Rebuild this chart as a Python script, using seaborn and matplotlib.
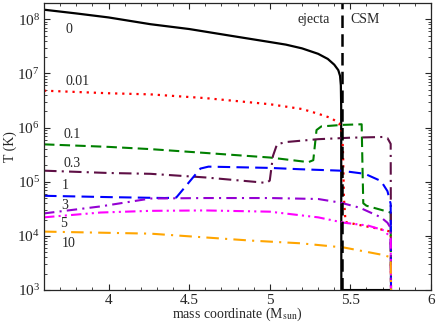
import numpy as np
import pandas as pd
import matplotlib
matplotlib.use("Agg")
import matplotlib.pyplot as plt
import seaborn as sns
from matplotlib.ticker import MultipleLocator, FixedLocator, FixedFormatter, LogLocator, NullFormatter

# temperature profiles for different times
m_0 = [3.6, 3.8, 4.0, 4.26, 4.5, 4.75, 5.0, 5.1, 5.2, 5.3, 5.36, 5.4, 5.425, 5.436, 5.441, 5.443, 5.444, 5.75]
T_0 = [1.5e8, 1.28e8, 1.08e8, 8.1e7, 6.6e7, 5.0e7, 3.8e7, 3.4e7, 2.9e7, 2.3e7, 1.85e7, 1.45e7, 1.15e7, 9e6, 6e6, 2.5e6, 1e3, 1e3]

m_001 = [3.6, 4.0, 4.26, 4.6, 5.0, 5.2, 5.3, 5.38, 5.43, 5.45, 5.455, 5.46, 5.47, 5.55, 5.65, 5.75, 5.752]
T_001 = [4.8e6, 4.3e6, 4.1e6, 3.5e6, 2.7e6, 2.2e6, 1.8e6, 1.5e6, 1.2e6, 8e5, 3e5, 5e4, 1.8e4, 1.6e4, 1.4e4, 1.2e4, 1e3]

m_01 = [3.6, 4.0, 4.26, 4.6, 5.0, 5.24, 5.27, 5.29, 5.32, 5.45, 5.57, 5.575, 5.58, 5.6, 5.75, 5.752]
T_01 = [4.9e5, 4.4e5, 4.0e5, 3.4e5, 2.8e5, 2.3e5, 2.5e5, 9e5, 1.05e6, 1.12e6, 1.15e6, 2e5, 4e4, 3.6e4, 2.7e4, 1e3]

m_03 = [3.6, 4.0, 4.26, 4.6, 4.9, 4.98, 5.0, 5.02, 5.045, 5.1, 5.3, 5.5, 5.7, 5.73, 5.75, 5.752]
T_03 = [1.6e5, 1.45e5, 1.4e5, 1.2e5, 1.0e5, 9.5e4, 1.05e5, 3e5, 4.9e5, 5.4e5, 6.1e5, 6.5e5, 6.7e5, 6.4e5, 5e5, 1e3]

m_1 = [3.6, 4.0, 4.35, 4.42, 4.57, 4.62, 5.0, 5.19, 5.44, 5.59, 5.69, 5.73, 5.75, 5.752]
T_1 = [5.5e4, 5.2e4, 5.0e4, 5.1e4, 1.75e5, 1.9e5, 1.8e5, 1.7e5, 1.6e5, 1.4e5, 1.03e5, 6.7e4, 3.9e4, 1e3]

m_3 = [3.6, 3.95, 4.26, 4.6, 5.0, 5.3, 5.44, 5.56, 5.69, 5.73, 5.75, 5.752]
T_3 = [2.6e4, 3.5e4, 4.9e4, 5.0e4, 5.0e4, 4.8e4, 4.1e4, 3.3e4, 2.2e4, 1.75e4, 1.4e4, 1e3]

m_5 = [3.6, 3.95, 4.26, 4.6, 5.0, 5.3, 5.46, 5.61, 5.71, 5.74, 5.75, 5.752]
T_5 = [2.2e4, 2.7e4, 2.9e4, 2.95e4, 2.8e4, 2.2e4, 1.75e4, 1.55e4, 1.26e4, 1.0e4, 9e3, 1e3]

m_10 = [3.6, 4.26, 4.88, 5.19, 5.46, 5.71, 5.75, 5.752]
T_10 = [1.2e4, 1.1e4, 8.2e3, 7.3e3, 6.1e3, 4.4e3, 4.0e3, 1e3]

labels = ["0", "0.01", "0.1", "0.3", "1", "3", "5", "10"]
label_x = [3.755, 3.805, 3.775, 3.775, 3.73, 3.73, 3.72, 3.75]
label_y = [6.6e7, 7.2e6, 7.6e5, 2.2e5, 8.4e4, 3.6e4, 1.7e4, 7.2e3]

x_ticks = [4, 4.5, 5, 5.5, 6]
x_ticklabels = ["4", "4.5", "5", "5.5", "6"]
m_boundary = 5.445

sns.set_style("ticks")
plt.rcParams["font.family"] = ["Liberation Serif", "DejaVu Serif"]
plt.rcParams["mathtext.fontset"] = "stix"

fig = plt.figure(figsize=(4.36, 3.27), dpi=100)
ax = fig.add_axes([0.101, 0.113, 0.8875, 0.878])

series = [
    (m_0, T_0, "black", "-", 1.6),
    (m_001, T_001, "red", (0, (1, 2.2)), 1.6),
    (m_01, T_01, "green", (0, (5, 2.5)), 1.5),
    (m_03, T_03, "#5e0f45", (0, (6, 2.5, 1, 2.5)), 1.5),
    (m_1, T_1, "blue", (0, (6, 3)), 1.5),
    (m_3, T_3, "darkviolet", (0, (5, 2.5, 1, 2.5)), 1.5),
    (m_5, T_5, "magenta", (0, (5, 2, 1, 2, 1, 2)), 1.5),
    (m_10, T_10, "orange", (0, (6, 3, 1, 3)), 1.5),
]
for m, T, c, ls, lw in series:
    df = pd.DataFrame({"m": m, "T": T})
    sns.lineplot(data=df, x="m", y="T", ax=ax, color=c, linestyle=ls,
                 linewidth=lw, sort=False, estimator=None)

ax.axvline(m_boundary, color="black", linestyle=(0, (5, 2.5)), linewidth=1.8)

for t, lx, ly in zip(labels, label_x, label_y):
    ax.text(lx, ly, t, ha="center", va="center", fontsize=10)
ax.text(5.37, 1.0e8, "ejecta", ha="right", va="center", fontsize=10)
ax.text(5.5, 1.0e8, "CSM", ha="left", va="center", fontsize=10)

ax.set_yscale("log")
ax.set_xlim(3.6, 6)
ax.set_ylim(1e3, 2e8)
ax.xaxis.set_major_locator(FixedLocator(x_ticks))
ax.xaxis.set_major_formatter(FixedFormatter(x_ticklabels))
ax.xaxis.set_minor_locator(MultipleLocator(0.1))
ax.yaxis.set_major_locator(LogLocator(base=10, numticks=10))
ax.yaxis.set_minor_locator(LogLocator(base=10, subs=np.arange(2, 10), numticks=20))
ax.yaxis.set_minor_formatter(NullFormatter())
ax.tick_params(which="both", direction="in", top=True, right=True, labelsize=11, pad=3)
ax.tick_params(which="major", length=4.5, width=0.8)
ax.tick_params(which="minor", length=2.5, width=0.6)
for s in ax.spines.values():
    s.set_linewidth(0.9)

ax.set_xlabel(r"mass coordinate (M$_{\rm sun}$)", fontsize=10, labelpad=-1)
ax.set_ylabel("T (K)", fontsize=10, labelpad=0)

fig.savefig("out.png", dpi=100)
